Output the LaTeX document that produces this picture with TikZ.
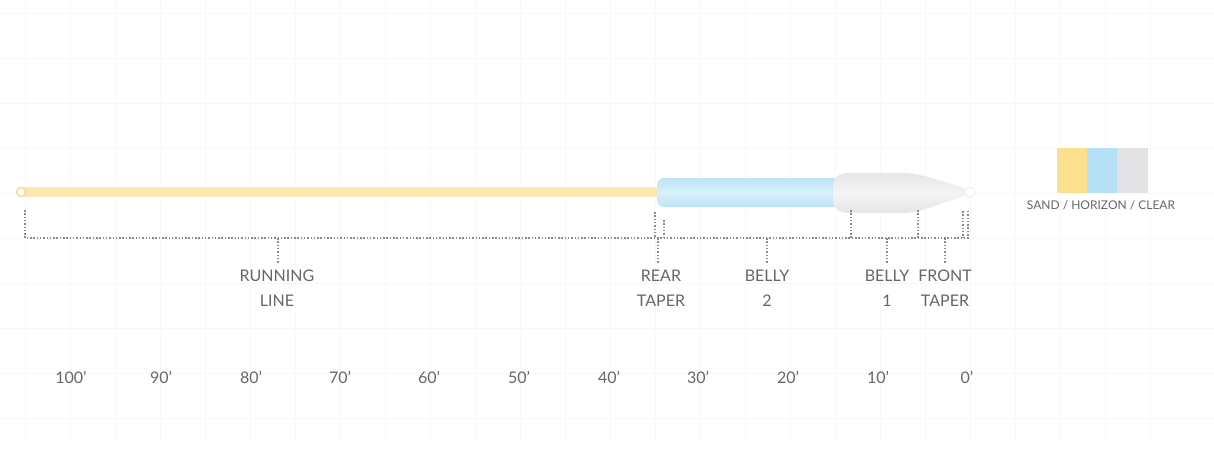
\documentclass[tikz,border=0pt]{standalone}
\usepackage{fontspec}
\setmainfont{Lato}
\definecolor{sand}{HTML}{FBE8B0}
\definecolor{sandedge}{HTML}{F6D98A}
\definecolor{sandkey}{HTML}{FBE08F}
\definecolor{horizonA}{HTML}{BEE4F7}
\definecolor{horizonB}{HTML}{D8F0FB}
\definecolor{horizonkey}{HTML}{B5E0F6}
\definecolor{clearA}{HTML}{E6E6E6}
\definecolor{clearB}{HTML}{F4F4F4}
\definecolor{clearkey}{HTML}{E3E3E5}
\definecolor{txt}{HTML}{666666}
\definecolor{dots}{HTML}{8A8A8A}
\definecolor{gridc}{HTML}{F8F8F8}
\tikzset{
  dotline/.style={draw=dots, line width=1.6pt, dash pattern=on 1.5pt off 1.8pt},
  seglabel/.style={anchor=north, inner sep=0pt, align=center, text=txt, font=\fontsize{16}{25}\selectfont},
  distlabel/.style={anchor=base, inner sep=0pt, text=txt, font=\fontsize{16}{20}\selectfont},
  keylabel/.style={anchor=north, inner sep=0pt, text=txt, font=\fontsize{12}{14}\selectfont},
  gridline/.style={draw=gridc, line width=1pt}
}
\begin{document}
\begin{tikzpicture}[x=1pt,y=-1pt]
\useasboundingbox[fill=white] (0,0) rectangle (1214,455);
% faint background grid
\foreach \gx in {25,70,...,1180} \draw[gridline] (\gx,0) -- (\gx,440);
\foreach \gy in {13,58,...,440} \draw[gridline] (0,\gy) -- (1214,\gy);
% running line (sand)
\fill[sand] (22,187) rectangle (662,197);
\draw[sandedge, line width=1.4pt, fill=white] (21,192) circle (4.5);
% belly 2 (horizon)
\shade[top color=horizonA, bottom color=horizonA, middle color=horizonB, rounded corners=7] (657,178) rectangle (845,207);
% head (clear)
\shade[top color=clearA, bottom color=clearA, middle color=clearB]
  (850,173) -- (905,173) .. controls (925,174) and (945,183) .. (965,188)
  -- (965,196) .. controls (945,201) and (925,212) .. (905,213) -- (850,213)
  .. controls (838,213) and (833,208) .. (833,200) -- (833,186)
  .. controls (833,178) and (838,173) .. (850,173) -- cycle;
\draw[clearA!80!black!20, line width=1.3pt, fill=white] (970,192) circle (5);
% bracket coordinates
\coordinate (b0) at (25,238);
\coordinate (b1) at (968,238);
\coordinate (t0) at (25,210);
\coordinate (t1a) at (655,212); \coordinate (t1b) at (655,238);
\coordinate (t2a) at (664,220); \coordinate (t2b) at (664,238);
\coordinate (t3a) at (851,210); \coordinate (t3b) at (851,238);
\coordinate (t4a) at (918,210); \coordinate (t4b) at (918,238);
\coordinate (t5a) at (963,211); \coordinate (t5b) at (963,238);
\coordinate (t6a) at (968,211);
\draw[dotline] (t0) -- (b0) -- (b1) -- (t6a);
\draw[dotline] (t1a) -- (t1b);
\draw[dotline] (t2a) -- (t2b);
\draw[dotline] (t3a) -- (t3b);
\draw[dotline] (t4a) -- (t4b);
\draw[dotline] (t5a) -- (t5b);
% segment labels
\node[seglabel] (rl) at (277,270) {RUNNING\\LINE};
\node[seglabel] (rt) at (661,270) {REAR\\TAPER};
\node[seglabel] (b2) at (767,270) {BELLY\\2};
\node[seglabel] (b1l) at (887,270) {BELLY\\1};
\node[seglabel] (ft) at (945,270) {FRONT\\TAPER};
\coordinate (p1) at (278,238); \coordinate (q1) at (278,263);
\coordinate (p2) at (658,238); \coordinate (q2) at (658,263);
\coordinate (p3) at (767,238); \coordinate (q3) at (767,263);
\coordinate (p4) at (887,238); \coordinate (q4) at (887,263);
\coordinate (p5) at (945,238); \coordinate (q5) at (945,263);
\draw[dotline] (p1) -- (q1);
\draw[dotline] (p2) -- (q2);
\draw[dotline] (p3) -- (q3);
\draw[dotline] (p4) -- (q4);
\draw[dotline] (p5) -- (q5);
% distance scale
\node[distlabel] (d100) at (71,383) {100'};
\node[distlabel] (d90) at (161,383) {90'};
\node[distlabel] (d80) at (251,383) {80'};
\node[distlabel] (d70) at (340,383) {70'};
\node[distlabel] (d60) at (429,383) {60'};
\node[distlabel] (d50) at (519,383) {50'};
\node[distlabel] (d40) at (609,383) {40'};
\node[distlabel] (d30) at (698,383) {30'};
\node[distlabel] (d20) at (788,383) {20'};
\node[distlabel] (d10) at (878,383) {10'};
\node[distlabel] (d0) at (967,383) {0'};
% colour key
\fill[sandkey] (1057,148) rectangle (1087,193);
\fill[horizonkey] (1087,148) rectangle (1117,193);
\fill[clearkey] (1117,148) rectangle (1148,193);
\node[keylabel] (key) at (1101,200) {SAND / HORIZON / CLEAR};
\end{tikzpicture}
\end{document}
